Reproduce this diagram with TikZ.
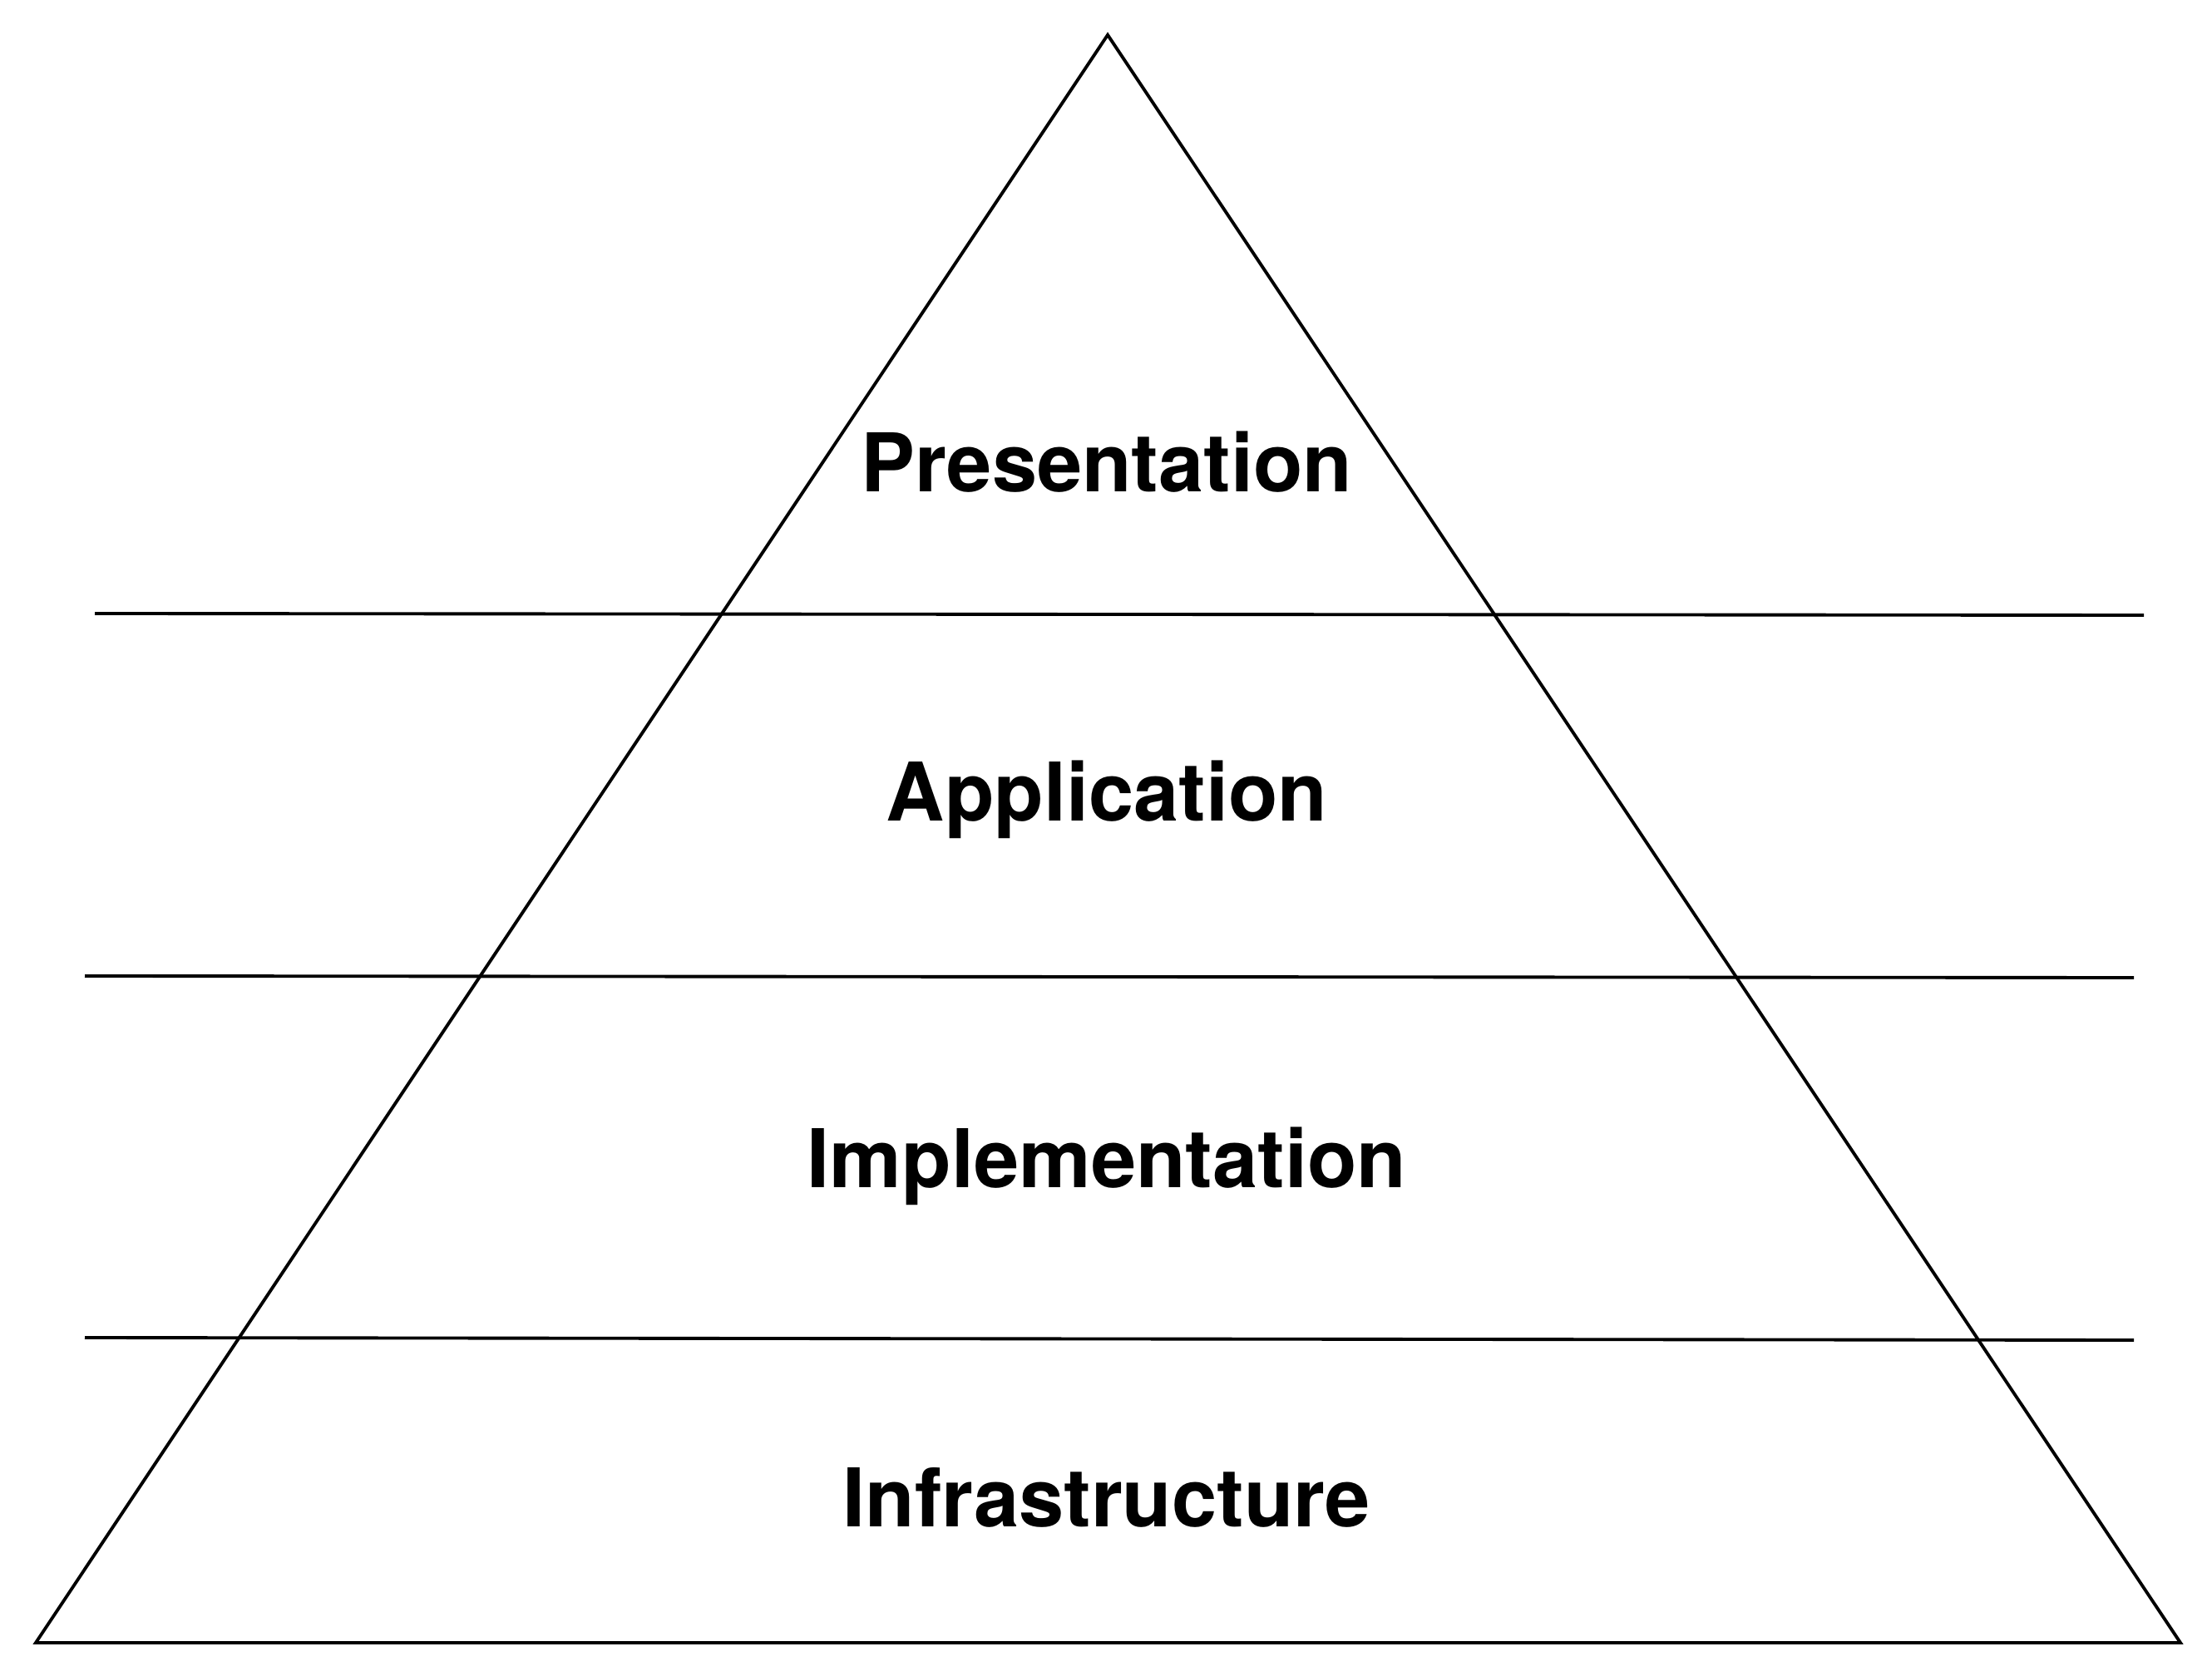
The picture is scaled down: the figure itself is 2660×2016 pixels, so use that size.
\documentclass[tikz,border=0pt]{standalone}
\usepackage{fontspec}
\setmainfont{TeX Gyre Heros}
\begin{document}
\begin{tikzpicture}[x=0.01cm,y=-0.01cm,
  edge/.style={line width=1.1pt,line join=miter,black},
  layer/.style={anchor=base,inner sep=0pt,font=\fontsize{27.7pt}{32pt}\selectfont\bfseries}]
\useasboundingbox (0,0) rectangle (2660,2016);
\coordinate (apex) at (1332,42);
\coordinate (bl) at (43,1976);
\coordinate (br) at (2622,1976);
\draw[edge] (apex) -- (br) -- (bl) -- cycle;
\coordinate (l1a) at (114,738);
\coordinate (l1b) at (2578,740);
\coordinate (l2a) at (102,1174);
\coordinate (l2b) at (2566,1176);
\coordinate (l3a) at (102,1609);
\coordinate (l3b) at (2566,1612);
\draw[edge] (l1a) -- (l1b);
\draw[edge] (l2a) -- (l2b);
\draw[edge] (l3a) -- (l3b);
\node[layer] (pres) at (1331,592) {Presentation};
\node[layer] (app) at (1331,988) {Application};
\node[layer] (impl) at (1331,1428) {Implementation};
\node[layer] (infra) at (1331,1836) {Infrastructure};
\end{tikzpicture}
\end{document}
